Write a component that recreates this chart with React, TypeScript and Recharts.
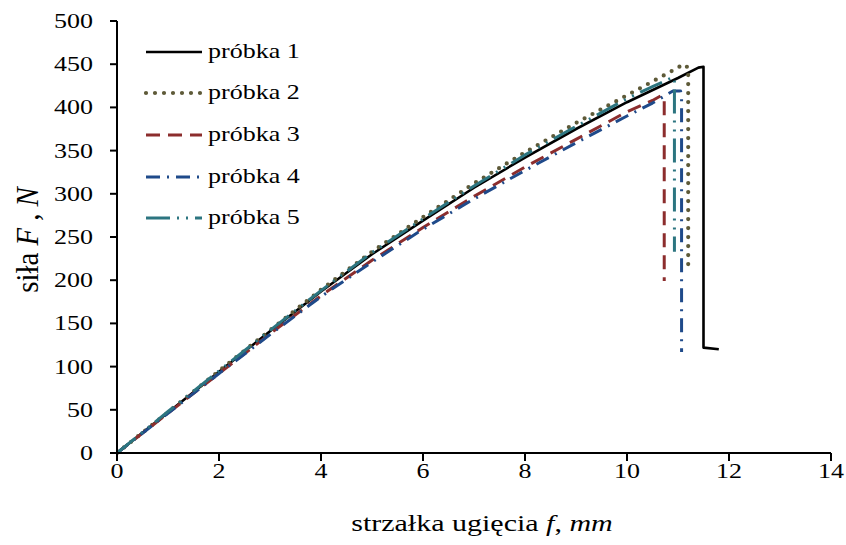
import React from "react";
import { LineChart, Line, XAxis, YAxis } from "recharts";

// strzałka ugięcia f [mm] vs siła F [N]
const xTicks = [0, 2, 4, 6, 8, 10, 12, 14];
const yTicks = [0, 50, 100, 150, 200, 250, 300, 350, 400, 450, 500];

const probka1: [number, number][] = [
  [0, 0], [1, 47], [2, 94], [3, 141], [4, 187], [5, 230], [6, 269], [7, 307],
  [8, 342], [9, 375], [10, 406], [11, 434], [11.4, 446], [11.5, 447],
  [11.5, 122], [11.8, 120],
];
const probka2: [number, number][] = [
  [0, 0], [1, 47], [2, 95], [3, 142], [4, 189], [5, 233], [6, 273], [7, 312],
  [8, 348], [9, 382], [10, 414], [10.5, 430], [11, 446], [11.1, 450],
  [11.2, 446], [11.2, 213],
];
const probka3: [number, number][] = [
  [0, 0], [1, 46], [2, 92], [3, 138], [4, 182], [5, 223], [6, 261], [7, 297],
  [8, 331], [9, 363], [10, 395], [10.5, 408], [10.68, 414], [10.73, 408],
  [10.73, 199],
];
const probka4: [number, number][] = [
  [0, 0], [1, 46], [2, 92], [3, 137], [4, 181], [5, 221], [6, 259], [7, 294],
  [8, 327], [9, 359], [10, 390], [10.5, 405], [10.9, 419], [11.05, 419],
  [11.07, 412], [11.07, 117],
];
const probka5: [number, number][] = [
  [0, 0], [1, 48], [2, 95], [3, 142], [4, 188], [5, 232], [6, 271], [7, 309],
  [8, 345], [9, 378], [10, 410], [10.5, 424], [10.91, 435], [10.93, 430],
  [10.93, 233],
];

const FONT = "'Liberation Serif', 'Times New Roman', serif";
const SX = 1.3; // the original figure is stretched horizontally

const toRows = (pts: [number, number][]) => pts.map(([f, F]) => ({ f, F }));

const series = [
  { name: "próbka 1", data: probka1, color: "#000000", width: 2.6, dash: undefined, cap: "butt" },
  { name: "próbka 2", data: probka2, color: "#5e5a38", width: 4.2, dash: "0 9", cap: "round" },
  { name: "próbka 3", data: probka3, color: "#8c2d2d", width: 3, dash: "14 8", cap: "butt" },
  { name: "próbka 4", data: probka4, color: "#1f4a8a", width: 3, dash: "14 7 2 7", cap: "butt" },
  { name: "próbka 5", data: probka5, color: "#2c7580", width: 3, dash: "24 7 2 7 2 7", cap: "butt" },
];

const XTick = ({ x, y, payload }: any) => (
  <g transform={`translate(${x},${y})`}>
    <text textAnchor="middle" dy={15} transform={`scale(${SX},1)`} fontFamily={FONT} fontSize={20} fill="#000">
      {payload.value}
    </text>
  </g>
);

const YTick = ({ x, y, payload }: any) => (
  <g transform={`translate(${x - 15},${y})`}>
    <text textAnchor="end" dy={7} transform={`scale(${SX},1)`} fontFamily={FONT} fontSize={20} fill="#000">
      {payload.value}
    </text>
  </g>
);

const legendRows = [52, 93, 135, 177, 218];

export default function App() {
  return (
    <div style={{ position: "absolute", left: 0, top: 0, width: 846, height: 545, background: "#fff" }}>
      <LineChart
        width={846}
        height={545}
        margin={{ top: 21, right: 15, left: 57, bottom: 62 }}
      >
        <XAxis
          type="number"
          dataKey="f"
          domain={[0, 14]}
          ticks={xTicks}
          allowDataOverflow
          stroke="#000"
          strokeWidth={2}
          tickSize={8}
          tick={<XTick />}
          height={30}
        />
        <YAxis
          type="number"
          dataKey="F"
          domain={[0, 500]}
          ticks={yTicks}
          stroke="#000"
          strokeWidth={2}
          tickSize={7}
          tick={<YTick />}
          width={60}
        />
        {series.map((s) => (
          <Line
            key={s.name}
            data={toRows(s.data)}
            dataKey="F"
            name={s.name}
            type="linear"
            stroke={s.color}
            strokeWidth={s.width}
            strokeDasharray={s.dash}
            strokeLinecap={s.cap as any}
            strokeLinejoin="round"
            dot={false}
            activeDot={false}
            isAnimationActive={false}
          />
        ))}
      </LineChart>

      {/* legend and axis titles */}
      <svg width={846} height={545} style={{ position: "absolute", left: 0, top: 0, pointerEvents: "none" }}>
        {series.map((s, i) => (
          <g key={s.name}>
            <line
              x1={146}
              x2={202}
              y1={legendRows[i]}
              y2={legendRows[i]}
              stroke={s.color}
              strokeWidth={s.width}
              strokeDasharray={s.dash}
              strokeLinecap={s.cap as any}
            />
            <text
              transform={`translate(208,${legendRows[i] + 6}) scale(${SX},1)`}
              fontFamily={FONT}
              fontSize={20}
              fill="#000"
            >
              {s.name}
            </text>
          </g>
        ))}
        <text
          transform={`translate(482,531) scale(1.25,1)`}
          textAnchor="middle"
          fontFamily={FONT}
          fontSize={24}
          fill="#000"
        >
          strzałka ugięcia  <tspan fontStyle="italic">f</tspan>, <tspan fontStyle="italic">mm</tspan>
        </text>
        <text
          transform={`translate(38,240) scale(1.3,1.2) rotate(-90)`}
          textAnchor="middle"
          fontFamily={FONT}
          fontSize={24}
          fill="#000"
        >
          siła  <tspan fontStyle="italic">F</tspan> ,  <tspan fontStyle="italic">N</tspan>
        </text>
      </svg>
    </div>
  );
}
